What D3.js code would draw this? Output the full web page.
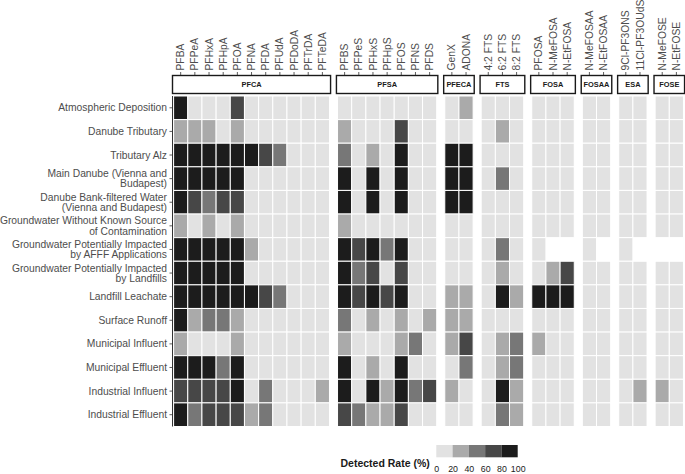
<!DOCTYPE html>
<html>
<head>
<meta charset="utf-8">
<script src="https://cdn.jsdelivr.net/npm/d3@7"></script>
<style>
  body { margin: 0; background: #fff; }
  text { font-family: "Liberation Sans", Arial, sans-serif; }
</style>
</head>
<body>
<div id="chart"></div>
<script>
// sampling sources, top to bottom (\n = line break in the label)
var sources = [
  "Atmospheric Deposition",
  "Danube Tributary",
  "Tributary Alz",
  "Main Danube (Vienna and\nBudapest)",
  "Danube Bank-filtered Water\n(Vienna and Budapest)",
  "Groundwater Without Known Source\nof Contamination",
  "Groundwater Potentially Impacted\nby AFFF Applications",
  "Groundwater Potentially Impacted\nby Landfills",
  "Landfill Leachate",
  "Surface Runoff",
  "Municipal Influent",
  "Municipal Effluent",
  "Industrial Influent",
  "Industrial Effluent"
];

var groups = ["PFCA", "PFSA", "PFECA", "FTS", "FOSA", "FOSAA", "ESA", "FOSE"];

var compounds = {
  PFCA: ["PFBA", "PFPeA", "PFHxA", "PFHpA", "PFOA", "PFNA", "PFDA", "PFUdA", "PFDoDA", "PFTrDA", "PFTeDA"],
  PFSA: ["PFBS", "PFPeS", "PFHxS", "PFHpS", "PFOS", "PFNS", "PFDS"],
  PFECA: ["GenX", "ADONA"],
  FTS: ["4:2 FTS", "6:2 FTS", "8:2 FTS"],
  FOSA: ["PFOSA", "N-MeFOSA", "N-EtFOSA"],
  FOSAA: ["N-MeFOSAA", "N-EtFOSAA"],
  ESA: ["9Cl-PF3ONS", "11Cl-PF3OUdS"],
  FOSE: ["N-MeFOSE", "N-EtFOSE"]
};

// detected rate (%) per source (rows) and compound (columns); null = not analysed
var ratePFCA = [
  [95, 0, 0, 0, 70, 0, 0, 0, 0, 0, 0],
  [30, 30, 30, 0, 30, 0, 0, 0, 0, 0, 0],
  [95, 95, 95, 95, 95, 95, 70, 50, 0, 0, 0],
  [95, 95, 95, 95, 95, 0, 0, 0, 0, 0, 0],
  [95, 70, 50, 70, 70, 0, 0, 0, 0, 0, 0],
  [30, 0, 30, 0, 30, 0, 0, 0, 0, 0, 0],
  [95, 95, 95, 95, 95, 30, 0, 0, 0, 0, 0],
  [95, 95, 95, 95, 95, 0, 0, 0, 0, 0, 0],
  [95, 95, 95, 95, 95, 95, 70, 50, 0, 0, 0],
  [95, 30, 50, 50, 30, 0, 0, 0, 0, 0, 0],
  [30, 0, 0, 0, 30, 0, 0, 0, 0, 0, 0],
  [95, 95, 95, 50, 95, 0, 0, 0, 0, 0, 0],
  [70, 70, 70, 70, 95, 0, 50, 0, 0, 0, 30],
  [95, 50, 70, 70, 70, 30, 50, 0, 0, 0, 0]
];
var ratePFSA = [
  [0, 0, 0, 0, 0, 0, 0],
  [30, 0, 0, 0, 70, 0, 0],
  [50, 0, 30, 0, 95, 0, 0],
  [95, 0, 95, 0, 95, 0, 0],
  [95, 0, 95, 0, 95, 0, 0],
  [30, 0, 0, 0, 0, 0, 0],
  [95, 70, 95, 50, 95, 0, 0],
  [95, 50, 70, 0, 70, 0, 0],
  [95, 70, 95, 70, 95, 0, 0],
  [50, 0, 30, 0, 30, 0, 30],
  [30, 0, 0, 0, 30, 50, 0],
  [95, 0, 30, 0, 95, 0, 0],
  [95, 0, 95, 30, 95, 50, 70],
  [70, 50, 30, 30, 70, 0, 0]
];
var ratePFECA = [
  [0, 30], [0, 0], [95, 95], [95, 95], [95, 95], [0, 0], [0, 0],
  [0, 0], [30, 30], [30, 30], [30, 70], [0, 50], [30, 0], [0, 0]
];
var rateFTS = [
  [0, 0, 0], [0, 30, 0], [0, 0, 0], [0, 50, 0], [0, 0, 0], [0, 0, 0], [0, 50, 0],
  [0, 30, 0], [0, 95, 30], [0, 0, 0], [0, 30, 50], [0, 30, 50], [0, 95, 30], [0, 50, 30]
];
var rateFOSA = [
  [0, 0, 0], [0, 0, 0], [0, 0, 0], [0, 0, 0], [0, 0, 0], [0, 0, 0], [0, null, null],
  [0, 30, 70], [95, 95, 95], [0, 0, 0], [30, 0, 0], [0, 0, 0], [0, 0, 0], [0, 0, 0]
];
var rateFOSAA = [
  [0, 0], [0, 0], [0, 0], [0, 0], [0, 0], [0, 0], [0, null],
  [0, 0], [0, 0], [0, 0], [0, 0], [0, 0], [0, 0], [0, 0]
];
var rateESA = [
  [0, 0], [0, 0], [0, 0], [0, 0], [0, 0], [0, 0], [0, null],
  [0, 0], [0, 0], [0, 0], [0, 0], [0, 0], [0, 30], [0, 0]
];
var rateFOSE = [
  [0, 0], [0, 0], [0, 0], [0, 0], [0, 0], [0, 0], [null, null],
  [0, 0], [0, 0], [0, 0], [0, 0], [0, 0], [30, 0], [0, 0]
];

var rates = { PFCA: ratePFCA, PFSA: ratePFSA, PFECA: ratePFECA, FTS: rateFTS,
              FOSA: rateFOSA, FOSAA: rateFOSAA, ESA: rateESA, FOSE: rateFOSE };

var legendBreaks = [0, 20, 40, 60, 80, 100];
var greys = ["#e2e2e2", "#aaaaaa", "#777777", "#474747", "#1c1c1c"];

var width = 685, height = 474;
var panelLeft = 172.5, panelTop = 96, panelBottom = 426.5;
var colW = 14.17, pad = 1.1, gap = 5.86;

var color = d3.scaleThreshold()
    .domain(legendBreaks.slice(1, -1))
    .range(greys);

var svg = d3.select("#chart").append("svg")
    .attr("width", width)
    .attr("height", height);

var y = d3.scaleBand()
    .domain(sources)
    .range([panelTop, panelBottom]);

// panels laid out left to right, width follows the number of compounds
var panels = [];
var x0 = panelLeft;
groups.forEach(function(g) {
    var w = compounds[g].length * colW + 2 * pad;
    var xs = d3.scaleBand().domain(compounds[g]).range([x0 + pad, x0 + w - pad]);
    panels.push({ name: g, x: x0, w: w, scale: xs });
    x0 += w + gap;
});

panels.forEach(function(p) {
    var g = svg.append("g");
    var cells = [];
    rates[p.name].forEach(function(row, i) {
        row.forEach(function(v, j) {
            cells.push({ source: sources[i], compound: compounds[p.name][j], value: v });
        });
    });

    g.selectAll("rect.tile")
        .data(cells.filter(function(d) { return d.value !== null; }))
        .enter().append("rect")
        .attr("class", "tile")
        .attr("x", function(d) { return p.scale(d.compound); })
        .attr("y", function(d) { return y(d.source); })
        .attr("width", p.scale.bandwidth())
        .attr("height", y.bandwidth())
        .attr("fill", function(d) { return color(d.value); })
        .attr("stroke", "#fff")
        .attr("stroke-width", 1);

    // strip
    g.append("rect")
        .attr("x", p.x)
        .attr("y", 75.5)
        .attr("width", p.w)
        .attr("height", 18)
        .attr("fill", "#fff")
        .attr("stroke", "#1a1a1a")
        .attr("stroke-width", 1.4);
    g.append("text")
        .attr("x", p.x + p.w / 2)
        .attr("y", 84.5)
        .attr("dy", "0.35em")
        .attr("text-anchor", "middle")
        .attr("font-size", "7.4px")
        .attr("font-weight", "bold")
        .attr("fill", "#1a1a1a")
        .text(p.name);

    // top axis: ticks + rotated labels
    var ticks = g.selectAll("g.tick")
        .data(compounds[p.name])
        .enter().append("g")
        .attr("transform", function(c) { return "translate(" + (p.scale(c) + p.scale.bandwidth() / 2) + ",0)"; });
    ticks.append("line")
        .attr("y1", 72)
        .attr("y2", 75)
        .attr("stroke", "#333")
        .attr("stroke-width", 0.8);
    ticks.append("text")
        .attr("transform", "translate(0,70.5)rotate(-90)")
        .attr("dy", "0.35em")
        .attr("font-size", "10.3px")
        .attr("fill", "#4d4d4d")
        .text(function(c) { return c; });
});

// left axis
svg.append("line")
    .attr("x1", panelLeft).attr("x2", panelLeft)
    .attr("y1", panelTop).attr("y2", panelBottom)
    .attr("stroke", "#333")
    .attr("stroke-width", 1);

var ylab = svg.selectAll("g.ylab")
    .data(sources)
    .enter().append("g")
    .attr("transform", function(s) { return "translate(0," + (y(s) + y.bandwidth() / 2) + ")"; });
ylab.append("line")
    .attr("x1", panelLeft - 3).attr("x2", panelLeft)
    .attr("stroke", "#333")
    .attr("stroke-width", 0.8);
ylab.append("text")
    .attr("x", panelLeft - 5.5)
    .attr("text-anchor", "end")
    .attr("font-size", "10.3px")
    .attr("fill", "#4d4d4d")
    .each(function(s) {
        var lines = s.split("\n");
        var t = d3.select(this);
        lines.forEach(function(l, i) {
            t.append("tspan")
                .attr("x", panelLeft - 5.5)
                .attr("y", (i - (lines.length - 1) / 2) * 10.2)
                .attr("dy", "0.35em")
                .text(l);
        });
    });

// legend
var lx = d3.scaleLinear().domain([0, 100]).range([436.3, 517.7]);
var legend = svg.append("g");
legend.selectAll("rect")
    .data(greys)
    .enter().append("rect")
    .attr("x", function(c, i) { return lx(legendBreaks[i]); })
    .attr("y", 445)
    .attr("width", function(c, i) { return lx(legendBreaks[i + 1]) - lx(legendBreaks[i]); })
    .attr("height", 12.3)
    .attr("fill", function(c) { return c; });

legend.append("g")
    .attr("transform", "translate(0,462)")
    .call(d3.axisBottom(lx).tickValues(legendBreaks).tickSize(0).tickPadding(4))
    .call(function(g) { g.select(".domain").remove(); })
    .selectAll("text")
    .attr("font-family", "Liberation Sans, Arial, sans-serif")
    .attr("font-size", "8.8px")
    .attr("fill", "#1a1a1a");

legend.append("text")
    .attr("x", 340.5)
    .attr("y", 467)
    .attr("font-size", "10.5px")
    .attr("font-weight", "bold")
    .attr("fill", "#1a1a1a")
    .text("Detected Rate (%)");
</script>
</body>
</html>
